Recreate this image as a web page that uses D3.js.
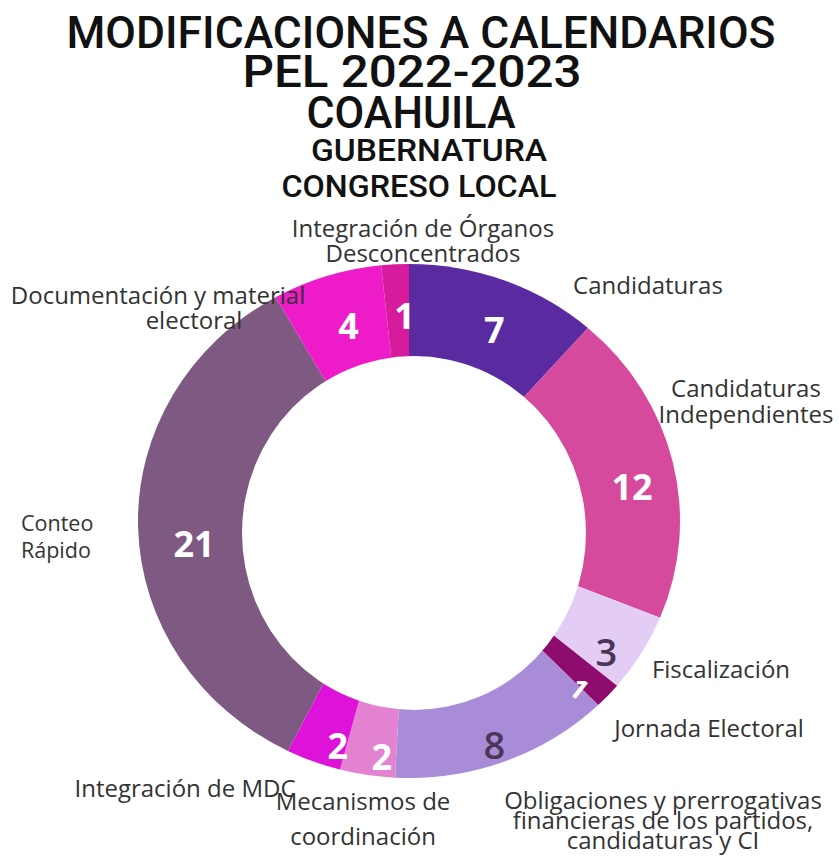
<!DOCTYPE html>
<html>
<head>
<meta charset="utf-8">
<script src="https://cdn.jsdelivr.net/npm/d3@7"></script>
<style>
  html, body { margin: 0; padding: 0; background: #ffffff; }
  svg { display: block; }
</style>
</head>
<body>
<svg id="chart" width="839" height="863"></svg>
<script>
// ---- data ----
const categories = [
  "Candidaturas",
  "Candidaturas Independientes",
  "Fiscalización",
  "Jornada Electoral",
  "Obligaciones y prerrogativas financieras de los partidos, candidaturas y CI",
  "Mecanismos de coordinación",
  "Integración de MDC",
  "Conteo Rápido",
  "Documentación y material electoral",
  "Integración de Órganos Desconcentrados"
];
const values = [7, 12, 3, 1, 8, 2, 2, 21, 4, 1];
const titleLines = ["MODIFICACIONES A CALENDARIOS", "PEL 2022-2023", "COAHUILA", "GUBERNATURA", "CONGRESO LOCAL"];

// ---- styles / layout ----
const colors = ["#5a2aa0", "#d54a9c", "#e4cdf4", "#8e0c6e", "#a98cd8", "#e482d2", "#de12d9", "#7e5a83", "#ee1bc9", "#d61c9c"];
const valueColors = ["#fff", "#fff", "#4a3658", "#fff", "#4a3658", "#fff", "#fff", "#fff", "#fff", "#fff"];

const svg = d3.select("#chart");

// Title
const titleStyle = [
  {x: 421, y: 48, size: 45, w: 709},
  {x: 412, y: 87, size: 44, w: 339},
  {x: 411, y: 128, size: 44, w: 209},
  {x: 429, y: 161, size: 31, w: 236},
  {x: 419, y: 197, size: 31, w: 275}
];
svg.append("g").selectAll("text").data(titleLines).join("text")
  .attr("x", (d, i) => titleStyle[i].x)
  .attr("y", (d, i) => titleStyle[i].y)
  .attr("text-anchor", "middle")
  .attr("font-family", "Roboto, 'Liberation Sans', sans-serif")
  .attr("font-weight", 500)
  .attr("font-size", (d, i) => titleStyle[i].size)
  .attr("textLength", (d, i) => titleStyle[i].w)
  .attr("lengthAdjust", "spacingAndGlyphs")
  .attr("fill", "#111")
  .text(d => d);

// Donut
const cx = 409, cy = 521, R = 257, sx = 271 / 257;
const pie = d3.pie().sort(null).value(d => d)(values);
const arc = d3.arc().innerRadius(0).outerRadius(R);

svg.append("g")
  .attr("transform", `translate(${cx},${cy}) scale(${sx},1)`)
  .selectAll("path").data(pie).join("path")
  .attr("d", arc)
  .attr("fill", (d, i) => colors[i]);

// hole
svg.append("ellipse")
  .attr("cx", 414).attr("cy", 533)
  .attr("rx", 172).attr("ry", 177)
  .attr("fill", "#fff");

// value labels at ring middle
const labelArc = d3.arc().innerRadius(222).outerRadius(222);
const vg = svg.append("g").attr("transform", `translate(416,538)`);
vg.selectAll("text").data(pie).join("text")
  .attr("transform", (d, i) => {
    const [x, y] = labelArc.centroid(d);
    return `translate(${x},${y}) rotate(${i === 3 ? 38 : 0})`;
  })
  .attr("text-anchor", "middle")
  .attr("dy", "0.36em")
  .attr("font-family", "'Open Sans', sans-serif")
  .attr("font-weight", (d, i) => valueColors[i] === "#fff" ? 700 : 600)
  .attr("font-size", (d, i) => i === 3 ? 28 : (valueColors[i] === "#fff" ? 36 : 38))
  .attr("fill", (d, i) => valueColors[i])
  .text(d => d.data);

// Category labels (annotation placement)
const catLines = [
  ["Candidaturas"],
  ["Candidaturas", "Independientes"],
  ["Fiscalización"],
  ["Jornada Electoral"],
  ["Obligaciones y prerrogativas", "financieras de los partidos,", "candidaturas y CI"],
  ["Mecanismos de", "coordinación"],
  ["Integración de MDC"],
  ["Conteo", "Rápido"],
  ["Documentación y material", "electoral"],
  ["Integración de Órganos", "Desconcentrados"]
];
const catPlace = [
  {x: 648, y: 294, lh: 25},
  {x: 746, y: 397, lh: 26},
  {x: 721, y: 678, lh: 25},
  {x: 709, y: 737, lh: 25},
  {x: 663, y: 809, lh: 20},
  {x: 363, y: 810, lh: 35},
  {x: 185, y: 797, lh: 25},
  {x: 21, y: 531, lh: 27, size: 21.5, anchor: "start"},
  {x: 158, y: 304, lh: 25, dx: [0, 36]},
  {x: 423, y: 237, lh: 25}
];
const cg = svg.append("g")
  .attr("font-family", "'Open Sans', 'Noto Sans', sans-serif")
  .attr("fill", "#333");
catLines.forEach((lines, i) => {
  const p = catPlace[i];
  const t = cg.append("text")
    .attr("font-size", p.size || 24)
    .attr("text-anchor", p.anchor || "middle");
  lines.forEach((ln, j) => {
    t.append("tspan")
      .attr("x", p.x + (p.dx ? p.dx[j] : 0))
      .attr("y", p.y + j * p.lh)
      .text(ln);
  });
});
</script>
</body>
</html>
